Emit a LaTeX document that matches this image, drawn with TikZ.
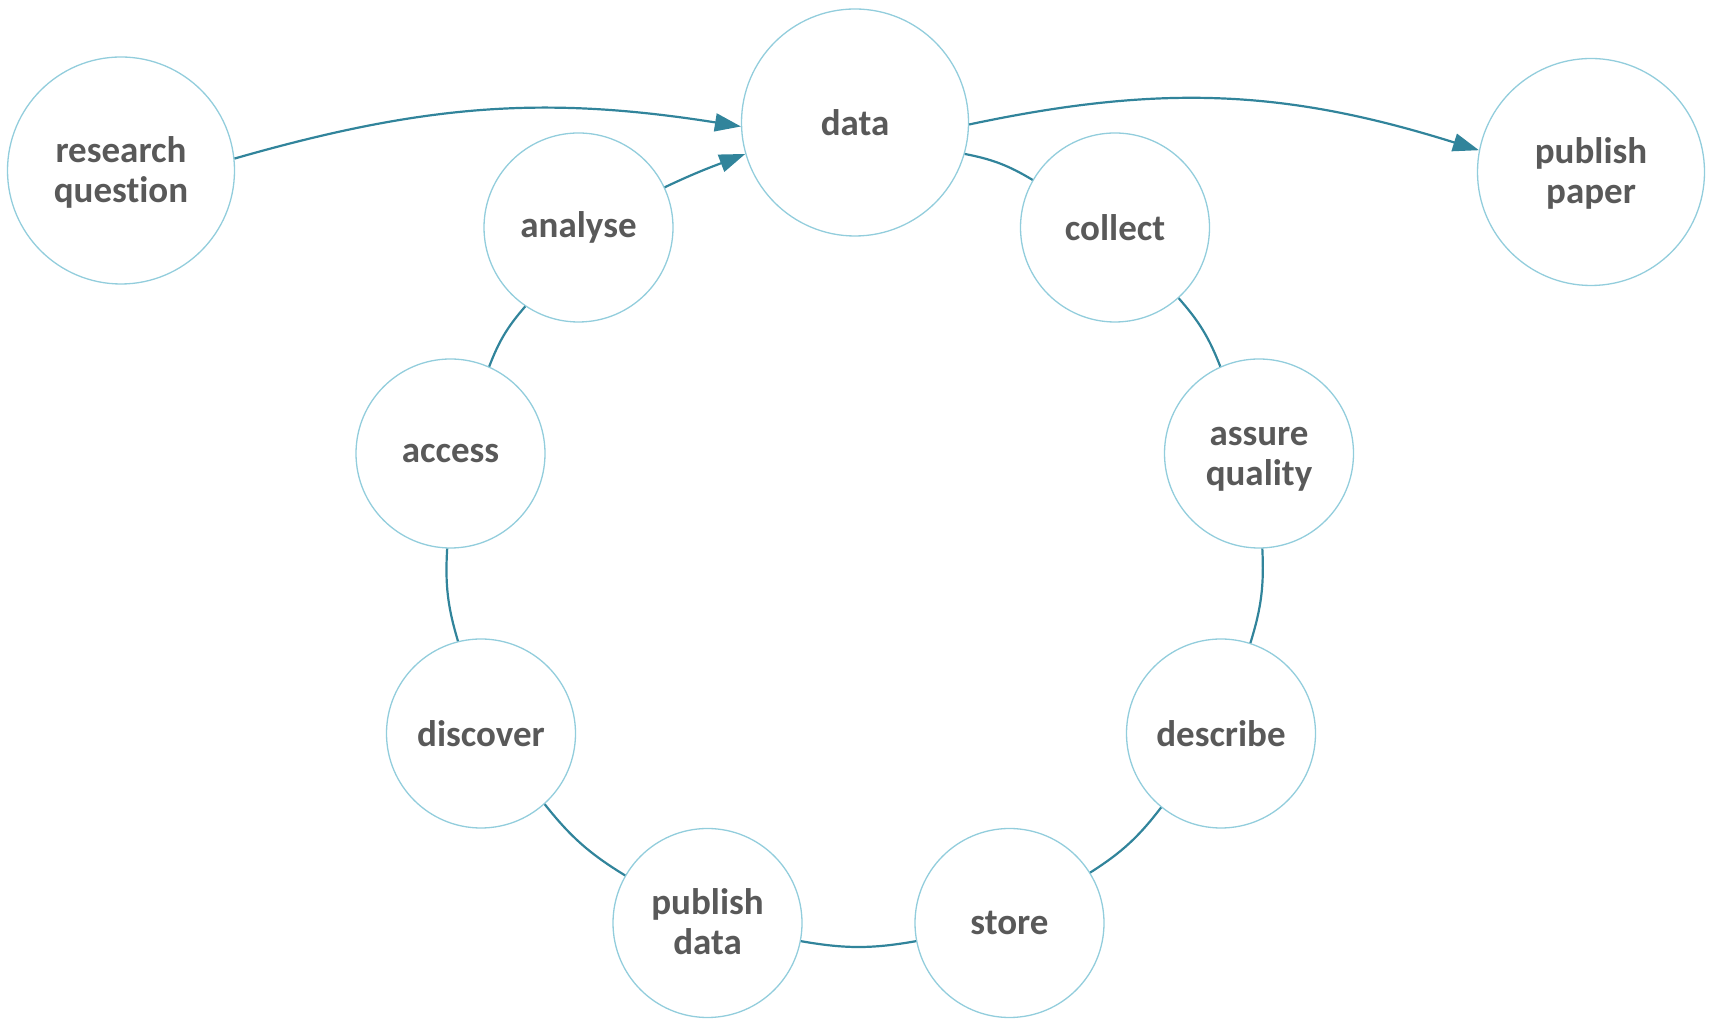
\documentclass[tikz,border=0pt]{standalone}
\usepackage{fontspec}
\setmainfont{Carlito}[Ligatures=NoCommon]
\usetikzlibrary{arrows.meta}
\definecolor{ringblue}{HTML}{92CDDC}
\definecolor{linkteal}{HTML}{31849B}
\definecolor{txtgray}{HTML}{595959}
\newcommand\tallstrut{\rule{0pt}{18pt}}
\begin{document}
\begin{tikzpicture}[x=0.5pt,y=-0.5pt,
  bubble/.style={circle,draw=ringblue,line width=0.65pt,inner sep=0pt,align=center,
    text=txtgray,font=\fontsize{18.5pt}{20pt}\selectfont\bfseries},
  bigbubble/.style={bubble,minimum size=113.5pt},
  smallbubble/.style={bubble,minimum size=94.5pt},
  link/.style={draw=linkteal,line width=1.1pt},
  flow/.style={link,-{Triangle[length=13pt,width=9pt]}}]
\useasboundingbox (0,0) rectangle (1709,1020);
\node[bigbubble] (rq) at (121,170.5) {\tallstrut research\\question\strut};
\node[bigbubble] (data) at (855,122.5) {data};
\node[bigbubble] (pp) at (1591,172) {\tallstrut publish\\paper\strut};
\node[smallbubble] (analyse) at (578.5,227.5) {analyse};
\node[smallbubble] (collect) at (1115,227.5) {collect};
\node[smallbubble] (access) at (450.5,453.5) {access};
\node[smallbubble] (assure) at (1259,453.5) {\tallstrut assure\\quality\strut};
\node[smallbubble] (discover) at (481,733.5) {discover};
\node[smallbubble] (describe) at (1221,733.5) {describe};
\node[smallbubble] (pubdata) at (707.5,923) {\tallstrut publish\\data\strut};
\node[smallbubble] (store) at (1009.5,923) {store};
% arrows
\draw[flow] (rq.6.6) to[out=16,in=171] (data.182);
\draw[flow] (data.-1.7) to[out=12,in=162.6] (pp.169);
\draw[flow] (analyse.25) to[out=25.5,in=201] (data.196.8);
% ring
\draw[link] (data.-16.7) to[bend left=10] (collect.150.5);
\draw[link] (collect.-48.6) to[bend left=10] (assure.114);
\draw[link] (assure.-88) to[bend left=10] (describe.72);
\draw[link] (describe.231.5) to[bend left=10] (store.32.4);
\draw[link] (store.191) to[bend left=10] (pubdata.-11.8);
\draw[link] (pubdata.150) to[bend left=10] (discover.-48.7);
\draw[link] (discover.104) to[bend left=10] (access.268);
\draw[link] (access.66.7) to[bend left=10] (analyse.236);
\end{tikzpicture}
\end{document}
